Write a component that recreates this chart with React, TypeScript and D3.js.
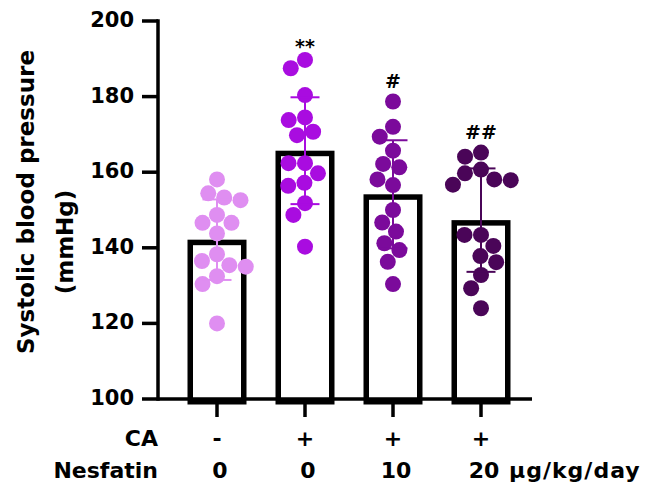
import React from 'react';
import * as d3 from 'd3';

// group keys, table rows under the axis, significance marks
const groups = ['ctrl', 'ca', 'ca_n10', 'ca_n20'];
const caRow = ['-', '+', '+', '+'];
const nesfatinRow = ['0', '0', '10', '20'];
const doseUnit = 'μg/kg/day';
const sigMarks = ['', '**', '#', '##'];
const yTicks = [100, 120, 140, 160, 180, 200];

// systolic pressure (mmHg), one value per animal
const ctrlValues = [158.1, 154.4, 153.3, 152.6, 148.7, 146.6, 146.6, 143.8, 138.3, 136.5, 135.4, 135.0, 132.5, 130.4, 120.0];
const caValues = [189.7, 187.5, 180.4, 174.5, 173.8, 170.7, 169.8, 162.4, 162.4, 159.7, 157.2, 156.4, 151.8, 148.7, 140.3];
const caN10Values = [178.7, 172.0, 169.4, 165.7, 162.2, 161.3, 158.1, 156.6, 150.0, 146.7, 144.3, 141.2, 139.4, 136.3, 130.4];
const caN20Values = [165.2, 164.1, 160.7, 159.7, 158.1, 157.9, 156.7, 143.4, 143.4, 140.5, 137.8, 136.2, 132.8, 129.3, 124.0];

const allValues = [ctrlValues, caValues, caN10Values, caN20Values];
const colors = ['#df8ef1', '#a90ce0', '#7b0a9b', '#4a0558'];

const W = 660;
const H = 489;
const FONT = '"DejaVu Sans", sans-serif';
const R = 8;

// simple beeswarm: place top-down, nearest free offset to the centre
function swarm(ys: number[], d: number): number[] {
  const order = d3.range(ys.length).sort((a, b) => ys[a] - ys[b]);
  const placed: { x: number; y: number }[] = [];
  const out: number[] = new Array(ys.length).fill(0);
  for (const i of order) {
    const yi = ys[i];
    const near = placed.filter((p) => Math.abs(p.y - yi) < d);
    const cands = [0];
    near.forEach((p) => {
      const w = Math.sqrt(d * d - (p.y - yi) ** 2);
      cands.push(p.x - w, p.x + w);
    });
    const ok = cands.filter((c) => near.every((p) => (p.x - c) ** 2 + (p.y - yi) ** 2 >= d * d - 0.01));
    ok.sort((a, b) => Math.abs(a) - Math.abs(b) || a - b);
    out[i] = ok[0];
    placed.push({ x: ok[0], y: yi });
  }
  return out;
}

export default function App() {
  const y = d3.scaleLinear().domain([100, 200]).range([399, 21]);
  const x = d3.scalePoint<string>().domain(groups).range([217, 481]);
  const axisX0 = 158;
  const axisX1 = 532;
  const barW = 59;
  const bw = 5.5;
  const axisW = 3.5;

  const stats = allValues.map((vals) => ({
    mean: d3.mean(vals) as number,
    sd: d3.deviation(vals) as number,
    max: d3.max(vals) as number,
  }));

  return (
    <svg width={W} height={H} style={{ position: 'absolute', left: 0, top: 0, background: '#fff' }} fontFamily={FONT} fontWeight="bold">
      {/* bars */}
      {groups.map((g, i) => {
        const cx = x(g) as number;
        const top = y(stats[i].mean);
        return (
          <rect key={g} x={cx - barW / 2 + bw / 2} y={top + bw / 2} width={barW - bw}
            height={y(100) - top} fill="#fff" stroke="#000" strokeWidth={bw} />
        );
      })}

      {/* dots */}
      {groups.map((g, i) => {
        const cx = x(g) as number;
        const ys = allValues[i].map((v) => y(v));
        const offs = swarm(ys, 16.5);
        return (
          <g key={g}>
            {allValues[i].map((v, j) => (
              <circle key={j} cx={cx + offs[j]} cy={y(v)} r={R} fill={colors[i]} />
            ))}
          </g>
        );
      })}

      {/* mean +/- SD */}
      {groups.map((g, i) => {
        const cx = x(g) as number;
        const hi = y(stats[i].mean + stats[i].sd);
        const lo = y(stats[i].mean - stats[i].sd);
        return (
          <g key={g} stroke={colors[i]} strokeWidth={2}>
            <line x1={cx} x2={cx} y1={hi} y2={lo} />
            <line x1={cx - 14.5} x2={cx + 14.5} y1={hi} y2={hi} />
            <line x1={cx - 14.5} x2={cx + 14.5} y1={lo} y2={lo} />
          </g>
        );
      })}

      {/* significance */}
      {groups.map((g, i) => {
        const m = sigMarks[i];
        if (!m) return null;
        const gap = m.startsWith('*') ? -1 : 6;
        return (
          <text key={g} x={(x(g) as number)} y={y(stats[i].max) - R - gap} textAnchor="middle" fontSize={19} fill="#000">
            {m}
          </text>
        );
      })}

      {/* y axis */}
      <g stroke="#000" strokeWidth={axisW}>
        <line x1={axisX0} x2={axisX0} y1={y(200) - axisW / 2} y2={y(100) + axisW / 2} />
        {yTicks.map((t) => (
          <line key={t} x1={axisX0 - 16} x2={axisX0} y1={y(t)} y2={y(t)} />
        ))}
      </g>
      {yTicks.map((t) => (
        <text key={t} x={134} y={y(t) + 6} textAnchor="end" fontSize={21} fill="#000">
          {t}
        </text>
      ))}
      <text transform="translate(34,202) rotate(-90)" textAnchor="middle" fontSize={23} fill="#000">
        Systolic blood pressure
      </text>
      <text transform="translate(73,242) rotate(-90)" textAnchor="middle" fontSize={23} fill="#000">
        (mmHg)
      </text>

      {/* x axis */}
      <g stroke="#000" strokeWidth={axisW}>
        <line x1={axisX0} x2={axisX1} y1={y(100)} y2={y(100)} />
        {groups.map((g) => (
          <line key={g} x1={x(g) as number} x2={x(g) as number} y1={y(100)} y2={y(100) + 18} />
        ))}
      </g>

      {/* treatment table */}
      <text x={158} y={446} textAnchor="end" fontSize={22} fill="#000">CA</text>
      <text x={158} y={478} textAnchor="end" fontSize={22} fill="#000">Nesfatin</text>
      {groups.map((g, i) => (
        <text key={g} x={x(g) as number} y={446} textAnchor="middle" fontSize={22} fill="#000">
          {caRow[i]}
        </text>
      ))}
      {groups.map((g, i) => (
        <text key={g} x={(x(g) as number) + 3} y={478} textAnchor="middle" fontSize={22} fill="#000">
          {nesfatinRow[i]}
        </text>
      ))}
      <text x={(x(groups[3]) as number) + 28} y={478} fontSize={22} letterSpacing={1} fill="#000">
        {doseUnit}
      </text>
    </svg>
  );
}
